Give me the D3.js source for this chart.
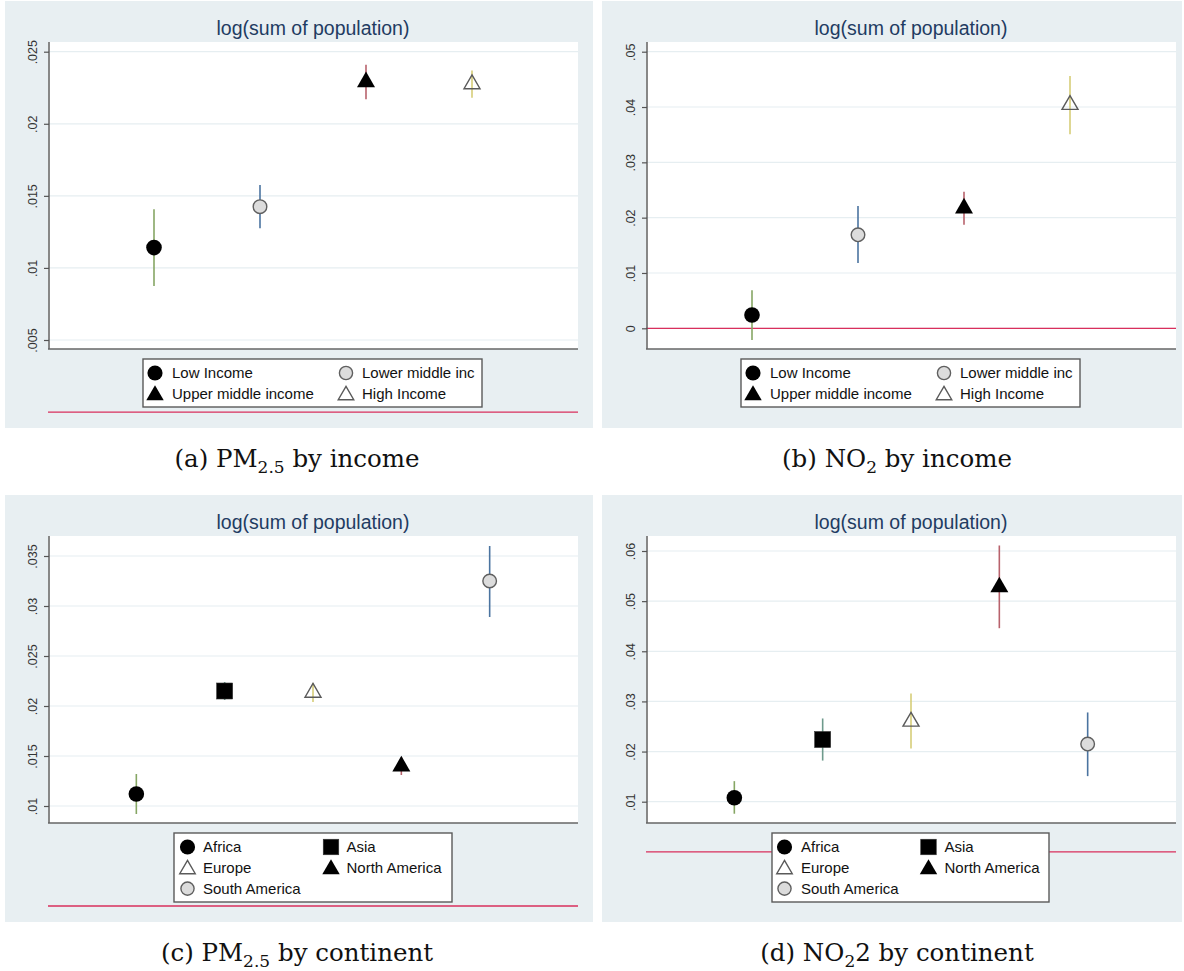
<!DOCTYPE html>
<html>
<head>
<meta charset="utf-8">
<script src="https://cdn.jsdelivr.net/npm/d3@7"></script>
<style>
  html, body { margin: 0; padding: 0; background: #ffffff; }
  svg { display: block; }
</style>
</head>
<body>
<svg id="chart" width="1184" height="971"></svg>
<script>
// ---------------- DATA ----------------
const incomeGroups = ["Low Income", "Lower middle inc", "Upper middle income", "High Income"];
const incomeShapes = ["circleFilled", "circleHollow", "triangleFilled", "triangleHollow"];
const incomeCIColors = ["#86a664", "#4b74a0", "#b8626c", "#d6cd78"];

const pmIncomeEst = [0.01141, 0.01425, 0.0229, 0.02275];
const pmIncomeLo  = [0.00875, 0.01275, 0.0217, 0.0218];
const pmIncomeHi  = [0.01407, 0.01576, 0.0241, 0.0237];
const pmIncomeTicks = [0.005, 0.01, 0.015, 0.02, 0.025];
const pmIncomeTickLabels = [".005", ".01", ".015", ".02", ".025"];

const no2IncomeEst = [0.0024, 0.0169, 0.0217, 0.0404];
const no2IncomeLo  = [-0.0021, 0.0118, 0.0187, 0.0351];
const no2IncomeHi  = [0.0069, 0.0221, 0.0247, 0.0456];
const no2IncomeTicks = [0, 0.01, 0.02, 0.03, 0.04, 0.05];
const no2IncomeTickLabels = ["0", ".01", ".02", ".03", ".04", ".05"];

const continents = ["Africa", "Asia", "Europe", "North America", "South America"];
const continentShapes = ["circleFilled", "square", "triangleHollow", "triangleFilled", "circleHollow"];
const continentCIColors = ["#86a664", "#6e9a8c", "#d6cd78", "#b8626c", "#4b74a0"];

const pmContEst = [0.0112, 0.0215, 0.02134, 0.01398, 0.0325];
const pmContLo  = [0.0092, 0.0206, 0.0204, 0.0131, 0.0289];
const pmContHi  = [0.0132, 0.0224, 0.0223, 0.0149, 0.0360];
const pmContTicks = [0.01, 0.015, 0.02, 0.025, 0.03, 0.035];
const pmContTickLabels = [".01", ".015", ".02", ".025", ".03", ".035"];

const no2ContEst = [0.0108, 0.0224, 0.0260, 0.0528, 0.0215];
const no2ContLo  = [0.0076, 0.0182, 0.0206, 0.0446, 0.0151];
const no2ContHi  = [0.0141, 0.0266, 0.0316, 0.0611, 0.0278];
const no2ContTicks = [0.01, 0.02, 0.03, 0.04, 0.05, 0.06];
const no2ContTickLabels = [".01", ".02", ".03", ".04", ".05", ".06"];

const panelTitle = "log(sum of population)";
const captionParts = [
  ["(a) PM", "2.5", " by income"],
  ["(b) NO", "2", " by income"],
  ["(c) PM", "2.5", " by continent"],
  ["(d) NO", "2", "2 by continent"]
];

// ---------------- LAYOUT ----------------
const svg = d3.select("#chart");
const FONT = "'Liberation Sans', Arial, Helvetica, sans-serif";

const panels = [
  { bg: [5, 1, 588, 427], plot: [48, 42, 578, 349], domain: [0.005, 0.025], range: [340, 51.7],
    cats: incomeGroups, shapes: incomeShapes, ciColors: incomeCIColors,
    est: pmIncomeEst, lo: pmIncomeLo, hi: pmIncomeHi, ticks: pmIncomeTicks, tickLabels: pmIncomeTickLabels,
    legend: { x: 143, y: 359, w: 339, h: 48, c1m: 12, c1t: 29, c2m: 203, c2t: 219 },
    caption: { x: 297, y: 467, parts: captionParts[0] } },
  { bg: [602, 1, 580, 427], plot: [646, 42, 1176, 349], domain: [0, 0.05], range: [328.3, 51.7],
    cats: incomeGroups, shapes: incomeShapes, ciColors: incomeCIColors,
    est: no2IncomeEst, lo: no2IncomeLo, hi: no2IncomeHi, ticks: no2IncomeTicks, tickLabels: no2IncomeTickLabels,
    legend: { x: 741, y: 359, w: 339, h: 48, c1m: 12, c1t: 29, c2m: 203, c2t: 219 },
    caption: { x: 897, y: 467, parts: captionParts[1] } },
  { bg: [5, 495, 588, 427], plot: [48, 536, 578, 823], domain: [0.01, 0.035], range: [806, 556],
    cats: continents, shapes: continentShapes, ciColors: continentCIColors,
    est: pmContEst, lo: pmContLo, hi: pmContHi, ticks: pmContTicks, tickLabels: pmContTickLabels,
    legend: { x: 174, y: 833, w: 278, h: 69, c1m: 13.5, c1t: 29, c2m: 157, c2t: 172.5 },
    caption: { x: 297, y: 961, parts: captionParts[2] } },
  { bg: [602, 495, 580, 427], plot: [646, 536, 1176, 823], domain: [0.01, 0.06], range: [801.7, 551],
    cats: continents, shapes: continentShapes, ciColors: continentCIColors,
    est: no2ContEst, lo: no2ContLo, hi: no2ContHi, ticks: no2ContTicks, tickLabels: no2ContTickLabels,
    legend: { x: 772, y: 833, w: 277, h: 69, c1m: 12.5, c1t: 29, c2m: 156.5, c2t: 172.5 },
    caption: { x: 897, y: 961, parts: captionParts[3] } }
];

function drawMarker(g, shape, cx, cy, scale) {
  const s = scale || 1;
  if (shape === "circleFilled") {
    g.append("circle").attr("cx", cx).attr("cy", cy).attr("r", 7.8 * s).attr("fill", "#000");
  } else if (shape === "circleHollow") {
    g.append("circle").attr("cx", cx).attr("cy", cy).attr("r", 6.8 * s)
      .attr("fill", "#dcdcdc").attr("stroke", "#5f5f5f").attr("stroke-width", 1.4);
  } else if (shape === "square") {
    const a = 16 * s;
    g.append("rect").attr("x", cx - a / 2).attr("y", cy - a / 2).attr("width", a).attr("height", a)
      .attr("fill", "#000").attr("stroke", "#333").attr("stroke-width", 0.6);
  } else if (shape === "triangleFilled") {
    const w = 18 * s, h = 15.6 * s;
    g.append("path")
      .attr("d", `M${cx},${cy - 2 * h / 3} L${cx + w / 2},${cy + h / 3} L${cx - w / 2},${cy + h / 3} Z`)
      .attr("fill", "#000");
  } else if (shape === "triangleHollow") {
    const w = 16 * s, h = 13.8 * s;
    g.append("path")
      .attr("d", `M${cx},${cy - 2 * h / 3} L${cx + w / 2},${cy + h / 3} L${cx - w / 2},${cy + h / 3} Z`)
      .attr("fill", "none").attr("stroke", "#5a5a5a").attr("stroke-width", 1.4);
  }
}

panels.forEach((p, pi) => {
  const g = svg.append("g");
  const [bx, by, bw, bh] = p.bg;
  const [pl, pt, pr, pb] = p.plot;

  g.append("rect").attr("x", bx).attr("y", by).attr("width", bw).attr("height", bh).attr("fill", "#e8eff2");
  g.append("rect").attr("x", pl).attr("y", pt).attr("width", pr - pl).attr("height", pb - pt).attr("fill", "#ffffff");

  const y = d3.scaleLinear().domain(p.domain).range(p.range);
  const x = d3.scaleLinear().domain([0, p.cats.length + 1]).range([pl, pr]);

  // grid lines
  g.append("g").selectAll("line").data(p.ticks).join("line")
    .attr("x1", pl).attr("x2", pr)
    .attr("y1", d => y(d)).attr("y2", d => y(d))
    .attr("stroke", "#e6eef1").attr("stroke-width", 1.2);

  // zero reference line (drawn unclipped, like the original)
  g.append("line").attr("x1", pl).attr("x2", pr).attr("y1", y(0)).attr("y2", y(0))
    .attr("stroke", "#d92f5c").attr("stroke-width", 1.3);

  // y axis
  const yAxis = d3.axisLeft(y).tickValues(p.ticks).tickSize(5).tickFormat((d, i) => p.tickLabels[i]);
  const ag = g.append("g").attr("transform", `translate(${pl + 1},0)`).call(yAxis);
  ag.select(".domain").remove();
  ag.selectAll(".tick line").attr("stroke", "#555").attr("stroke-width", 1.2);
  ag.selectAll(".tick text")
    .attr("x", null).attr("dy", null)
    .attr("transform", "translate(-12,0) rotate(-90)")
    .attr("text-anchor", "middle")
    .attr("font-family", FONT).attr("font-size", 12.5).attr("fill", "#333");

  g.append("line").attr("x1", pl + 1).attr("x2", pl + 1).attr("y1", pt).attr("y2", pb)
    .attr("stroke", "#555").attr("stroke-width", 1.4);
  g.append("line").attr("x1", pl).attr("x2", pr).attr("y1", pb).attr("y2", pb)
    .attr("stroke", "#666").attr("stroke-width", 1.4);

  // confidence intervals
  g.append("g").selectAll("line").data(p.cats).join("line")
    .attr("x1", (d, i) => x(i + 1)).attr("x2", (d, i) => x(i + 1))
    .attr("y1", (d, i) => y(p.lo[i])).attr("y2", (d, i) => y(p.hi[i]))
    .attr("stroke", (d, i) => p.ciColors[i]).attr("stroke-width", 1.6);

  // markers
  const mg = g.append("g");
  p.cats.forEach((c, i) => drawMarker(mg, p.shapes[i], x(i + 1), y(p.est[i])));

  // title
  g.append("text").attr("x", (pl + pr) / 2).attr("y", pt - 7)
    .attr("text-anchor", "middle").attr("font-family", FONT).attr("font-size", 19.5)
    .attr("fill", "#1f3c62").text(panelTitle);

  // legend
  const L = p.legend;
  const lg = g.append("g");
  lg.append("rect").attr("x", L.x).attr("y", L.y).attr("width", L.w).attr("height", L.h)
    .attr("fill", "#fff").attr("stroke", "#5a5a5a").attr("stroke-width", 1.4);
  p.cats.forEach((c, i) => {
    const row = Math.floor(i / 2), col = i % 2;
    const cy = L.y + 14 + row * 20.8;
    const mx = L.x + (col === 0 ? L.c1m : L.c2m);
    const tx = L.x + (col === 0 ? L.c1t : L.c2t);
    drawMarker(lg, p.shapes[i], mx, cy + (p.shapes[i].startsWith("triangle") ? 1.5 : 0), 0.97);
    lg.append("text").attr("x", tx).attr("y", cy + 5.3)
      .attr("font-family", FONT).attr("font-size", 15).attr("fill", "#111").text(c);
  });

  // caption
  const C = p.caption;
  const ct = svg.append("text").attr("x", C.x).attr("y", C.y).attr("text-anchor", "middle")
    .attr("font-family", "'DejaVu Serif', 'Liberation Serif', serif").attr("font-size", 24.5).attr("fill", "#111");
  ct.append("tspan").text(C.parts[0]);
  ct.append("tspan").attr("font-size", 17).attr("dy", 6).text(C.parts[1]);
  ct.append("tspan").attr("dy", -6).text(C.parts[2]);
});
</script>
</body>
</html>
